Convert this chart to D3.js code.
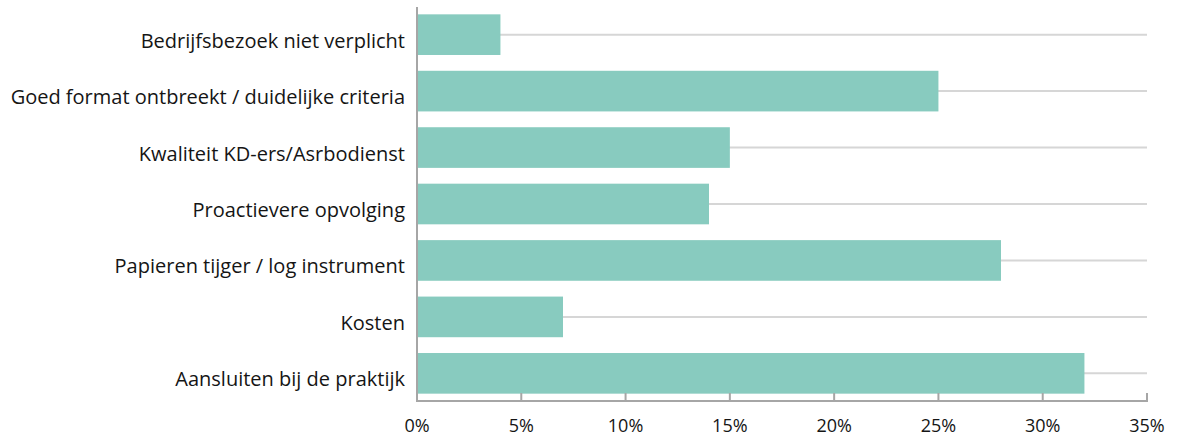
<!DOCTYPE html>
<html>
<head>
<meta charset="utf-8">
<script src="https://d3js.org/d3.v7.min.js"></script>
<style>
  body { margin: 0; background: #fff; }
  text { font-family: "Open Sans", sans-serif; fill: #151515; }
</style>
</head>
<body>
<div id="chart"></div>
<script>
// categories top to bottom, values in percent
var categories = [
  "Bedrijfsbezoek niet verplicht",
  "Goed format ontbreekt / duidelijke criteria",
  "Kwaliteit KD-ers/Asrbodienst",
  "Proactievere opvolging",
  "Papieren tijger / log instrument",
  "Kosten",
  "Aansluiten bij de praktijk"
];
var values = [4, 25, 15, 14, 28, 7, 32];
var ticks = [0, 5, 10, 15, 20, 25, 30, 35];

var W = 1181, H = 439;
var plotLeft = 417, plotRight = 1147, plotTop = 7, plotBottom = 401;

var svg = d3.select("#chart").append("svg")
  .attr("width", W)
  .attr("height", H);

var x = d3.scaleLinear().domain([0, 35]).range([plotLeft, plotRight]);
var y = d3.scaleBand()
  .domain(categories)
  .range([plotTop, plotBottom])
  .paddingInner(0.28)
  .paddingOuter(0.13);

// gridlines through bar centres
svg.selectAll(".grid")
  .data(categories)
  .enter().append("line")
  .attr("x1", plotLeft).attr("x2", plotRight)
  .attr("y1", function(d) { return y(d) + y.bandwidth() / 2; })
  .attr("y2", function(d) { return y(d) + y.bandwidth() / 2; })
  .attr("stroke", "#d6d6d6")
  .attr("stroke-width", 2);

// bars
svg.selectAll(".bar")
  .data(values)
  .enter().append("rect")
  .attr("x", x(0))
  .attr("y", function(d, i) { return y(categories[i]); })
  .attr("width", function(d) { return x(d) - x(0); })
  .attr("height", y.bandwidth())
  .attr("fill", "#88cbbf");

// axis lines
svg.append("line")
  .attr("x1", plotLeft).attr("x2", plotLeft)
  .attr("y1", plotTop).attr("y2", plotBottom)
  .attr("stroke", "#a6a6a6").attr("stroke-width", 2);
svg.append("line")
  .attr("x1", plotLeft - 1).attr("x2", plotRight + 1)
  .attr("y1", plotBottom).attr("y2", plotBottom)
  .attr("stroke", "#a6a6a6").attr("stroke-width", 2);

// ticks pointing up
svg.selectAll(".tick")
  .data(ticks)
  .enter().append("line")
  .attr("x1", function(d) { return x(d); })
  .attr("x2", function(d) { return x(d); })
  .attr("y1", plotBottom - 8).attr("y2", plotBottom)
  .attr("stroke", "#a6a6a6").attr("stroke-width", 2);

svg.selectAll(".ticklabel")
  .data(ticks)
  .enter().append("text")
  .attr("x", function(d) { return x(d); })
  .attr("y", 432)
  .attr("text-anchor", "middle")
  .style("font-size", "18px")
  .text(function(d) { return d + "%"; });

// category labels (sit a little below the bar centre, as in the original)
svg.selectAll(".label")
  .data(categories)
  .enter().append("text")
  .attr("x", plotLeft - 12)
  .attr("y", function(d) { return y(d) + y.bandwidth() / 2 + 13; })
  .attr("text-anchor", "end")
  .style("font-size", "20px")
  .text(function(d) { return d; });
</script>
</body>
</html>
